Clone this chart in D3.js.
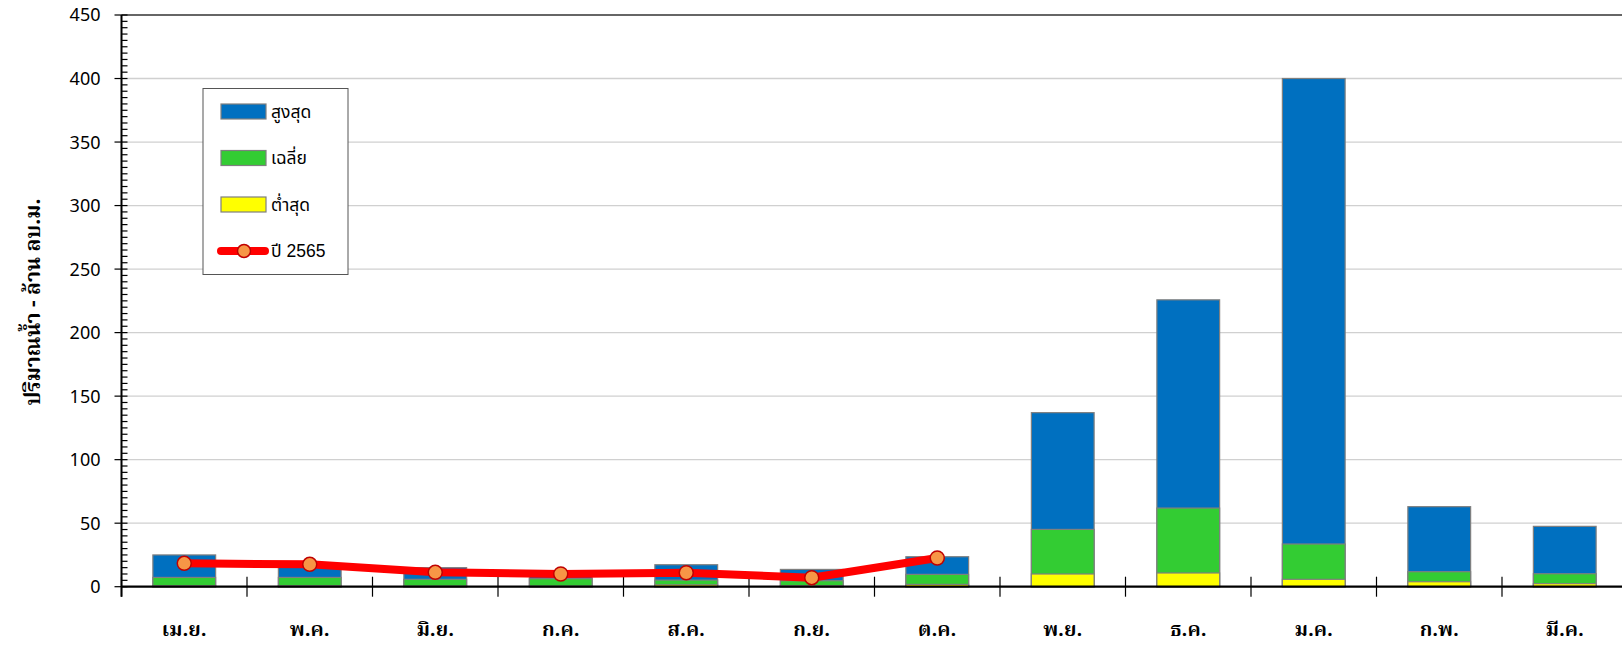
<!DOCTYPE html>
<html>
<head>
<meta charset="utf-8">
<script src="https://cdn.jsdelivr.net/npm/d3@7"></script>
<style>
  html, body { margin: 0; padding: 0; background: #fff; }
  svg { display: block; }
</style>
</head>
<body>
<svg id="chart" width="1622" height="649"></svg>
<script>
// ---- data ----
const months = ["เม.ย.", "พ.ค.", "มิ.ย.", "ก.ค.", "ส.ค.", "ก.ย.", "ต.ค.", "พ.ย.", "ธ.ค.", "ม.ค.", "ก.พ.", "มี.ค."];
const maxValues = [25.0, 17.0, 15.0, 12.0, 17.3, 13.6, 23.6, 137.0, 225.8, 400.0, 63.0, 47.5];
const avgValues = [7.3, 7.3, 5.8, 6.3, 5.2, 4.7, 9.7, 45.1, 61.9, 33.6, 11.8, 10.2];
const minValues = [0.8, 0.8, 0.5, 0.5, 1.5, 0.8, 1.8, 10.0, 10.8, 5.8, 3.9, 2.4];
const year2565 = [18.4, 17.6, 11.3, 10.0, 11.0, 7.1, 22.6];
const yTicks = [0, 50, 100, 150, 200, 250, 300, 350, 400, 450];
const seriesNames = ["สูงสุด", "เฉลี่ย", "ต่ำสุด", "ปี 2565"];
const yTitle = "ปริมาณน้ำ - ล้าน ลบ.ม.";

// ---- layout ----
const svg = d3.select("#chart");
const W = 1622;
const x0 = 121.5, step = 125.5;
const yTop = 15, yBot = 586.7;

const x = d3.scaleBand().domain(months)
  .range([x0, x0 + step * months.length])
  .paddingInner(0.5).paddingOuter(0.25);
const y = d3.scaleLinear().domain([0, 450]).range([yBot, yTop]);

const thaiFont = "'Noto Serif Thai','Noto Sans Thai','Tlwg Typo','Garuda','Loma','Norasi','DejaVu Sans',sans-serif";

// gridlines
svg.append("g").selectAll("line").data(yTicks.filter(d => d > 0 && d < 450)).join("line")
  .attr("x1", x0).attr("x2", W)
  .attr("y1", d => y(d)).attr("y2", d => y(d))
  .attr("stroke", "#d0d0d0").attr("stroke-width", 1.3);

// top border at 450
svg.append("line").attr("x1", x0).attr("x2", W)
  .attr("y1", y(450)).attr("y2", y(450))
  .attr("stroke", "#333").attr("stroke-width", 1.5);

// bars (overlapping, all from zero)
const barSeries = [
  { vals: maxValues, color: "#0070C0" },
  { vals: avgValues, color: "#33CC33" },
  { vals: minValues, color: "#FFFF00" }
];
barSeries.forEach(s => {
  svg.append("g").selectAll("rect").data(months).join("rect")
    .attr("x", d => x(d))
    .attr("width", x.bandwidth())
    .attr("y", (d, i) => y(s.vals[i]))
    .attr("height", (d, i) => y(0) - y(s.vals[i]))
    .attr("fill", s.color)
    .attr("stroke", "#7f7f7f").attr("stroke-width", 1.2);
});

// y axis
const yAxis = svg.append("g");
yAxis.append("line").attr("x1", x0).attr("x2", x0).attr("y1", yTop).attr("y2", yBot + 10)
  .attr("stroke", "#000").attr("stroke-width", 2);
// minor ticks every 5 (inside)
const minor = d3.range(0, 451, 5).filter(v => v % 50 !== 0);
yAxis.selectAll("line.minor").data(minor).join("line").attr("class", "minor")
  .attr("x1", x0).attr("x2", x0 + 6)
  .attr("y1", d => y(d)).attr("y2", d => y(d))
  .attr("stroke", "#000").attr("stroke-width", 1.2);
yAxis.selectAll("line.major").data(yTicks).join("line").attr("class", "major")
  .attr("x1", x0 - 7).attr("x2", x0 + 6)
  .attr("y1", d => y(d)).attr("y2", d => y(d))
  .attr("stroke", "#000").attr("stroke-width", 1.2);
yAxis.selectAll("text").data(yTicks).join("text")
  .attr("x", x0 - 21).attr("y", d => y(d))
  .attr("dy", "0.36em")
  .attr("text-anchor", "end")
  .attr("font-family", "'Noto Sans', sans-serif")
  .attr("font-size", 18)
  .attr("fill", "#000")
  .text(d => d);

// x axis
const xAxis = svg.append("g");
xAxis.append("line").attr("x1", x0).attr("x2", W).attr("y1", yBot).attr("y2", yBot)
  .attr("stroke", "#000").attr("stroke-width", 2.2);
xAxis.selectAll("line.tick").data(d3.range(months.length + 1)).join("line").attr("class", "tick")
  .attr("x1", i => x0 + i * step).attr("x2", i => x0 + i * step)
  .attr("y1", yBot - 10).attr("y2", yBot + 10)
  .attr("stroke", "#000").attr("stroke-width", 1.2);
xAxis.selectAll("text").data(months).join("text")
  .attr("x", d => x(d) + x.bandwidth() / 2)
  .attr("y", 636)
  .attr("text-anchor", "middle")
  .attr("font-family", thaiFont)
  .attr("font-weight", "bold")
  .attr("font-size", 20)
  .attr("fill", "#000")
  .text(d => d);

// y title
svg.append("text")
  .attr("transform", `translate(40,302) rotate(-90)`)
  .attr("text-anchor", "middle")
  .attr("font-family", thaiFont)
  .attr("font-weight", "bold")
  .attr("font-size", 21)
  .attr("fill", "#000")
  .text(yTitle);

// line 2565
const pts = year2565.map((v, i) => [x(months[i]) + x.bandwidth() / 2, y(v)]);
svg.append("path")
  .attr("d", d3.line()(pts))
  .attr("fill", "none").attr("stroke", "#FF0000").attr("stroke-width", 8)
  .attr("stroke-linejoin", "round").attr("stroke-linecap", "round");
svg.append("g").selectAll("circle").data(year2565).join("circle")
  .attr("cx", (d, i) => x(months[i]) + x.bandwidth() / 2)
  .attr("cy", d => y(d))
  .attr("r", 7)
  .attr("fill", "#F79646").attr("stroke", "#C00000").attr("stroke-width", 1.5);

// legend
const lg = svg.append("g");
lg.append("rect").attr("x", 203).attr("y", 88.5).attr("width", 145).attr("height", 186)
  .attr("fill", "#fff").attr("stroke", "#555").attr("stroke-width", 1);
const rowsY = [111.5, 158, 204.5, 251];
const swColors = ["#0070C0", "#33CC33", "#FFFF00"];
swColors.forEach((c, i) => {
  lg.append("rect").attr("x", 221).attr("y", rowsY[i] - 7.5).attr("width", 45).attr("height", 15)
    .attr("fill", c).attr("stroke", "#7f7f7f").attr("stroke-width", 1.2);
});
lg.append("line").attr("x1", 221).attr("x2", 265).attr("y1", rowsY[3]).attr("y2", rowsY[3])
  .attr("stroke", "#FF0000").attr("stroke-width", 8).attr("stroke-linecap", "round");
lg.append("circle").attr("cx", 244).attr("cy", rowsY[3]).attr("r", 6.5)
  .attr("fill", "#F79646").attr("stroke", "#C00000").attr("stroke-width", 1.5);
seriesNames.forEach((n, i) => {
  lg.append("text").attr("x", 271).attr("y", rowsY[i]).attr("dy", "0.36em")
    .attr("font-family", "'Liberation Sans','Noto Sans Thai','Tlwg Typo','Garuda','Loma',sans-serif")
    .attr("font-size", 17.5).attr("fill", "#000")
    .text(n);
});
</script>
</body>
</html>
